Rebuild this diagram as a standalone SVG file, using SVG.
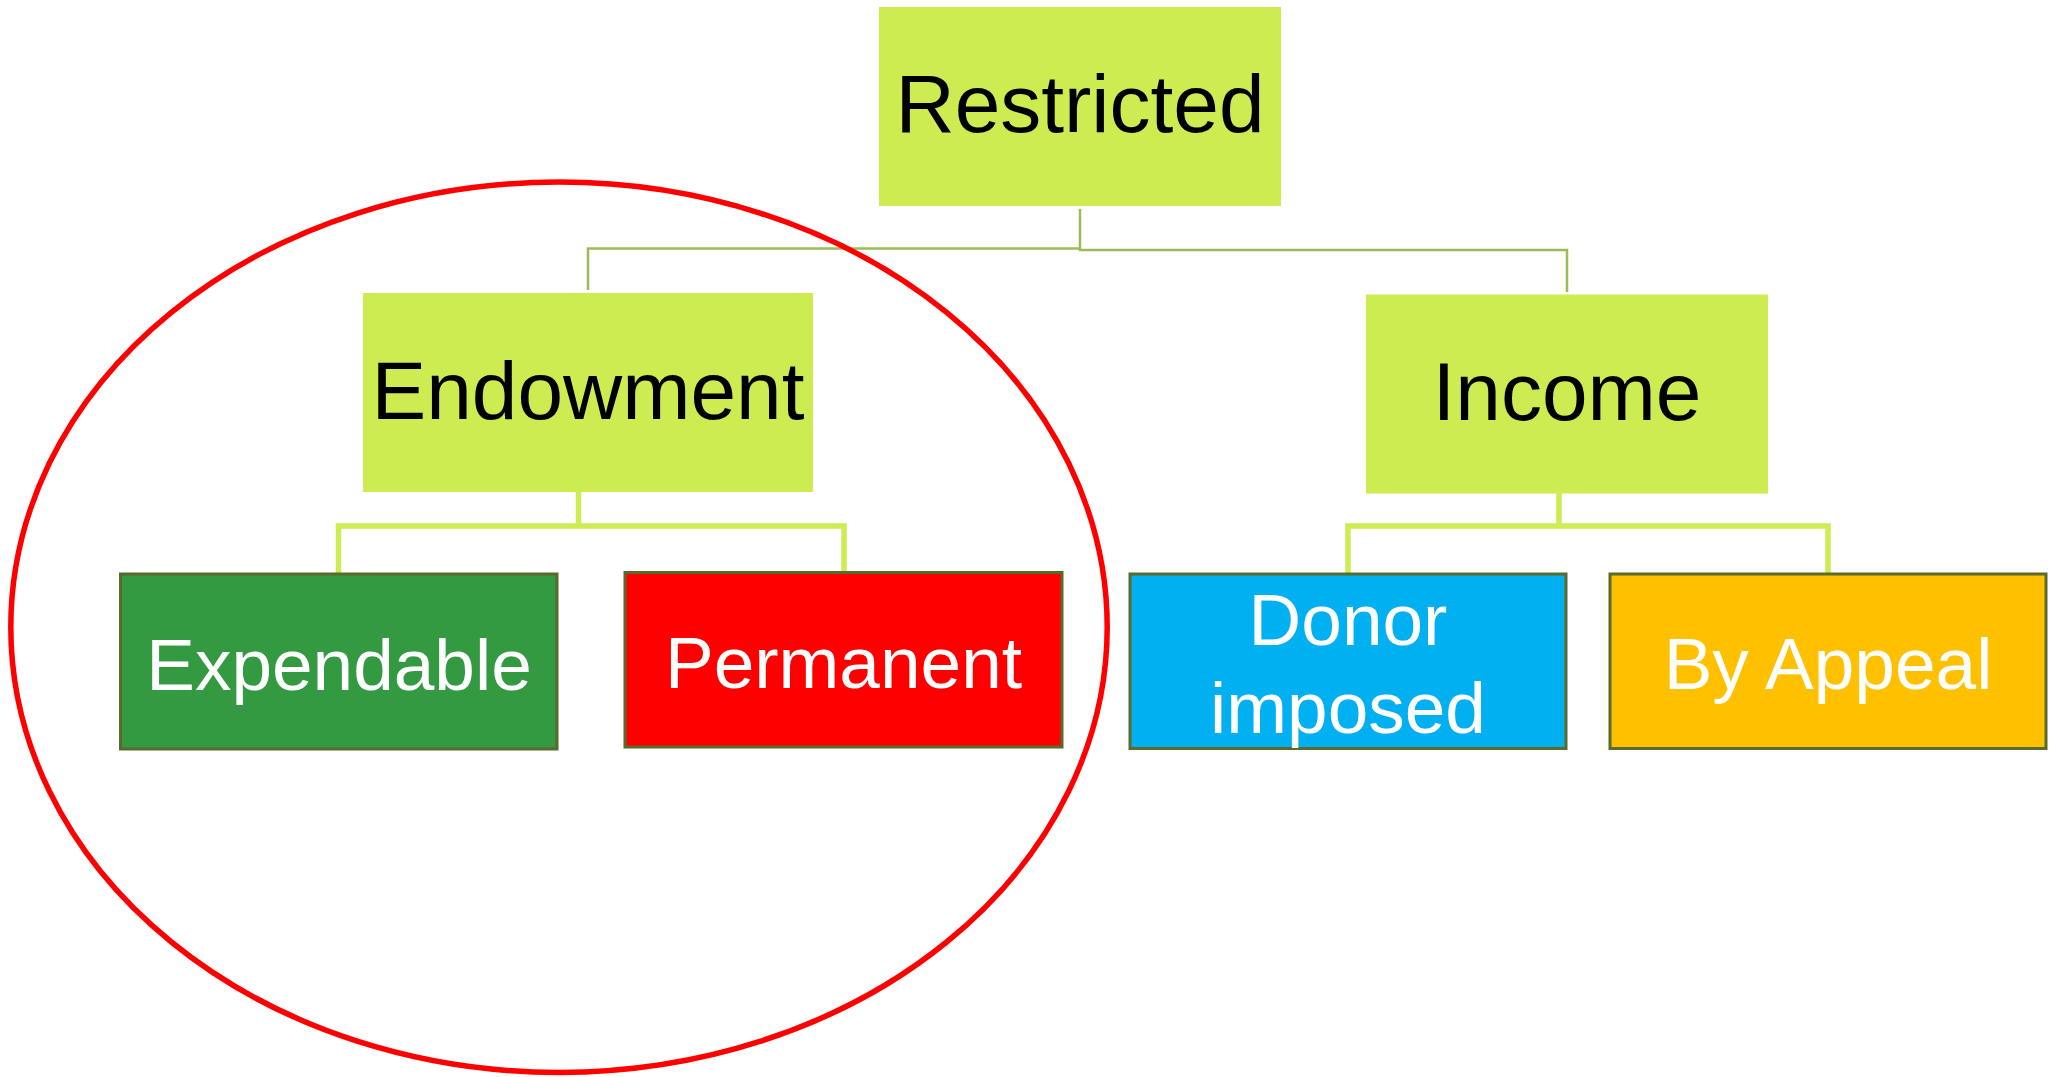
<svg xmlns="http://www.w3.org/2000/svg" width="2053" height="1077" viewBox="0 0 2053 1077">
<style>
.lime{fill:#CCEC52}
.leaf{stroke:#5A6A2B;stroke-width:3}
.t{font-family:"Liberation Sans",Arial,sans-serif;text-anchor:middle}
.big{font-size:82px;fill:#000}
.small{font-size:73px;fill:#fff}
.c1{fill:none;stroke:#9BBB59;stroke-width:2.5}
.c2{fill:none;stroke:#CCEC52;stroke-width:5.5}
</style>
<rect width="2053" height="1077" fill="#fff"/>
<g id="connectors">
<path class="c1" d="M1080,209 V248.5 H588 V290"/>
<path class="c1" d="M1080,248.5 V250 H1567 V292"/>
<path class="c2" d="M578.5,492 V526 M338.5,573 V526 H844 V571"/>
<path class="c2" d="M1559,493 V526 M1348,573 V526 H1828 V573"/>
</g>
<g id="restricted">
<rect class="lime" x="879" y="7" width="402" height="199"/>
<text class="t big" x="1080" y="131.5">Restricted</text>
</g>
<g id="endowment">
<rect class="lime" x="363" y="293" width="450" height="199"/>
<text class="t big" x="588" y="418.5">Endowment</text>
</g>
<g id="income">
<rect class="lime" x="1366" y="294.5" width="402" height="199"/>
<text class="t big" x="1567" y="419.5">Income</text>
</g>
<g id="expendable">
<rect class="leaf" fill="#339A42" x="120.5" y="574" width="436.5" height="175"/>
<text class="t small" x="339" y="689.5">Expendable</text>
</g>
<g id="permanent">
<rect class="leaf" fill="#FF0000" x="625" y="572.5" width="437" height="174.5"/>
<text class="t small" x="843.5" y="687.5">Permanent</text>
</g>
<g id="donor-imposed">
<rect class="leaf" fill="#00B0F0" x="1130" y="574" width="436" height="174.5"/>
<text class="t small" x="1348" y="644.5">Donor</text>
<text class="t small" x="1348" y="732.5">imposed</text>
</g>
<g id="by-appeal">
<rect class="leaf" fill="#FFC000" x="1610" y="574" width="436" height="174.5"/>
<text class="t small" x="1828" y="688.5">By Appeal</text>
</g>
<g id="highlight">
<ellipse cx="559" cy="627.2" rx="548.2" ry="445.2" fill="none" stroke="#FF0000" stroke-width="5.5"/>
</g>
</svg>
